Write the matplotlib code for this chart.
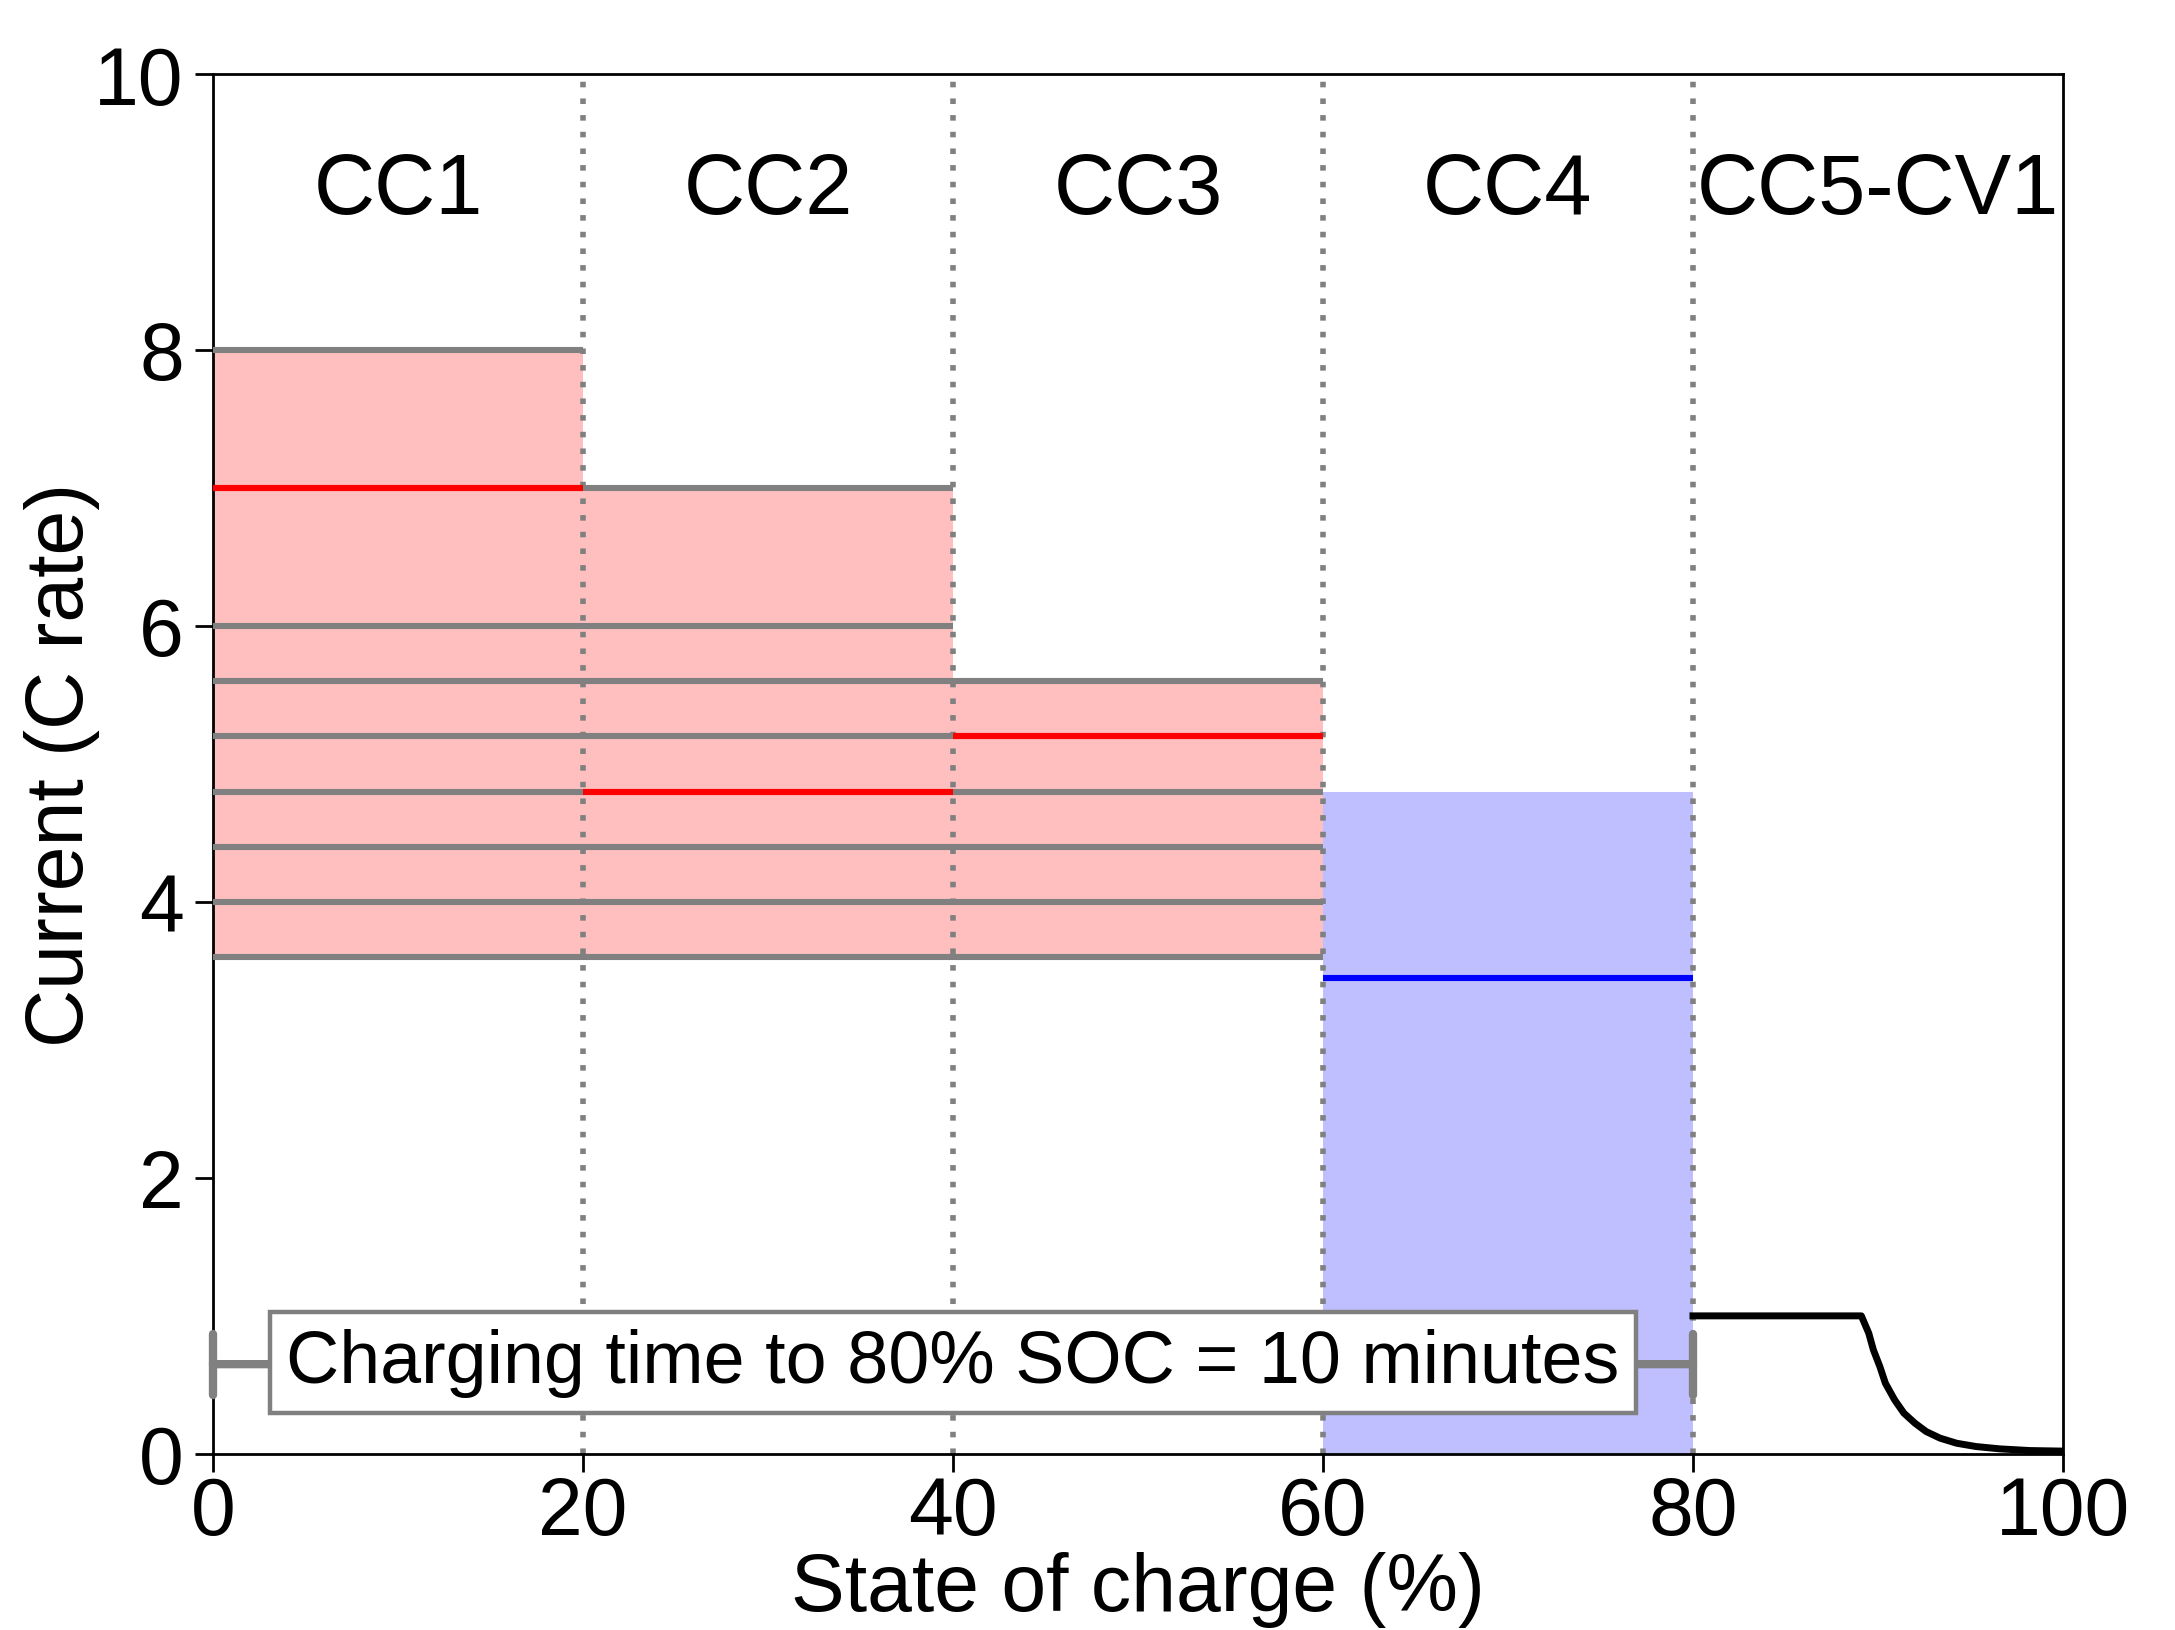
import numpy as np
import matplotlib
matplotlib.use("Agg")
import matplotlib.pyplot as plt

plt.rcParams['font.family'] = ['Liberation Sans', 'DejaVu Sans']

# stage boundaries (SOC %) and labels
stage_edges = [0, 20, 40, 60, 80, 100]
stage_names = ['CC1', 'CC2', 'CC3', 'CC4', 'CC5-CV1']
stage_label_x = [10, 30, 50, 70, 90]
stage_label_y = 9.15

# possible currents for the first three CC steps (C rate)
cc1_options = [8.0, 7.0, 6.0, 5.6, 5.2, 4.8, 4.4, 4.0, 3.6]
cc2_options = [7.0, 6.0, 5.6, 5.2, 4.8, 4.4, 4.0, 3.6]
cc3_options = [5.6, 5.2, 4.8, 4.4, 4.0, 3.6]
chosen_currents = [7.0, 4.8, 5.2]

# CC4 range and the resulting current
cc4_max = 4.8
cc4_current = 3.45

# CC5-CV1 tail
cv_soc = [80, 89.1, 89.5, 89.75, 90.1, 90.4, 90.9, 91.4, 92.0, 92.6, 93.35,
          94.25, 95.3, 96.6, 98.2, 100]
cv_current = [1.0, 1.0, 0.875, 0.754, 0.633, 0.512, 0.391, 0.295, 0.222,
              0.162, 0.114, 0.077, 0.053, 0.036, 0.024, 0.02]

note_text = 'Charging time to 80% SOC = 10 minutes'

fig = plt.figure(figsize=(10.875, 8.155), dpi=200)
ax = fig.add_axes([0.0979, 0.108, 0.8506, 0.846])

options = [cc1_options, cc2_options, cc3_options]
for i, opts in enumerate(options):
    x0, x1 = stage_edges[i], stage_edges[i + 1]
    ax.fill_between([x0, x1], min(opts), max(opts), color='red', alpha=0.25,
                    lw=0, zorder=1)
    for v in opts:
        ax.plot([x0, x1], [v, v], color='gray', lw=2.2, solid_capstyle='butt',
                zorder=3)
    ax.plot([x0, x1], [chosen_currents[i]] * 2, color='red', lw=2.2,
            solid_capstyle='butt', zorder=4)

ax.fill_between([stage_edges[3], stage_edges[4]], 0, cc4_max, color='blue',
                alpha=0.25, lw=0, zorder=1)
ax.plot([stage_edges[3], stage_edges[4]], [cc4_current] * 2, color='blue',
        lw=2.2, solid_capstyle='butt', zorder=4)

ax.plot(cv_soc, cv_current, color='black', lw=2.5, zorder=4)

for x in stage_edges[1:-1]:
    ax.axvline(x, color='gray', lw=2.0, linestyle=(0, (1, 2.0)), zorder=2)

for name, x in zip(stage_names, stage_label_x):
    ax.text(x, stage_label_y, name, ha='center', va='center', fontsize=30.5)

ax.annotate('', xy=(0, 0.65), xytext=(80, 0.65),
            arrowprops=dict(arrowstyle='|-|, widthA=0.55, widthB=0.55',
                            color='gray', lw=3, shrinkA=0, shrinkB=0,
                            mutation_scale=20),
            zorder=5)
ax.text(40, 0.66, note_text, ha='center', va='center', fontsize=26.5,
        zorder=6,
        bbox=dict(boxstyle='square,pad=0.22', fc='white', ec='gray', lw=1.6))

ax.set_xlim(0, 100)
ax.set_ylim(0, 10)
ax.set_xticks([0, 20, 40, 60, 80, 100])
ax.set_yticks([0, 2, 4, 6, 8, 10])
ax.tick_params(axis='both', direction='out', length=6.5, width=1.0,
               labelsize=29)
ax.tick_params(axis='x', pad=1)
ax.tick_params(axis='y', pad=4)
for s in ax.spines.values():
    s.set_linewidth(1.0)

ax.set_xlabel('State of charge (%)', fontsize=29, labelpad=0)
ax.set_ylabel('Current (C rate)', fontsize=29, labelpad=-2)

fig.savefig('out.png', dpi=200)
